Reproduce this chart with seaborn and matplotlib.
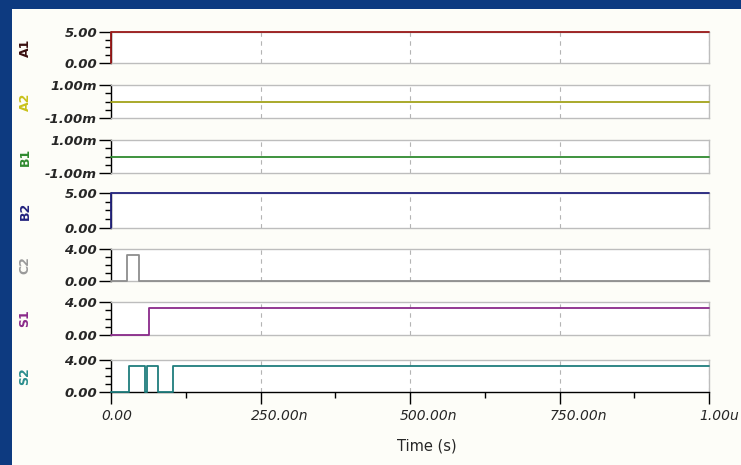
import matplotlib
matplotlib.use("Agg")
import matplotlib.pyplot as plt
import matplotlib.transforms as mtransforms
from matplotlib.ticker import AutoMinorLocator, MultipleLocator
import seaborn as sns

# ================= DATA =================
names = ["A1", "A2", "B1", "B2", "C2", "S1", "S2"]

# step waveforms: time (s) of each edge and level after the edge
t_a1 = [0, 0, 1e-6]
v_a1 = [0, 5.0, 5.0]
t_a2 = [0, 1e-6]
v_a2 = [0, 0]
t_b1 = [0, 1e-6]
v_b1 = [0, 0]
t_b2 = [0, 0, 1e-6]
v_b2 = [0, 5.0, 5.0]
t_c2 = [0, 27e-9, 46e-9, 1e-6]
v_c2 = [0, 3.3, 0, 0]
t_s1 = [0, 63e-9, 1e-6]
v_s1 = [0, 3.3, 3.3]
t_s2 = [0, 30.5e-9, 57e-9, 61e-9, 78e-9, 104e-9, 1e-6]
v_s2 = [0, 3.3, 0, 3.3, 0, 3.3, 3.3]

times = [t_a1, t_a2, t_b1, t_b2, t_c2, t_s1, t_s2]
values = [v_a1, v_a2, v_b1, v_b2, v_c2, v_s1, v_s2]

y_limits = [(0, 5), (-1e-3, 1e-3), (-1e-3, 1e-3), (0, 5), (0, 4), (0, 4), (0, 4)]
y_labels = [("0.00", "5.00"), ("-1.00m", "1.00m"), ("-1.00m", "1.00m"), ("0.00", "5.00"),
            ("0.00", "4.00"), ("0.00", "4.00"), ("0.00", "4.00")]

x_ticks = [0, 250e-9, 500e-9, 750e-9, 1e-6]
x_tick_labels = ["0.00", "250.00n", "500.00n", "750.00n", "1.00u"]

line_colors = ["#9a1818", "#a3a31a", "#2f8a2f", "#23237e", "#8e8e8e", "#8a2a8a", "#1f7d7d"]
label_colors = ["#3a1010", "#c9c21a", "#2f8a2f", "#23237e", "#9a9a9a", "#8a2a8a", "#2a8d8d"]

# ================= LAYOUT (pixel rows of each panel) =================
W, H = 741, 465
panel_rows = [(32, 63), (85, 118), (140, 173), (193, 228), (249, 281), (302, 335), (360, 392)]
x_left, x_right = 111, 709

sns.set_style("ticks")
plt.rcParams["font.family"] = ["DejaVu Sans"]

fig = plt.figure(figsize=(W / 100, H / 100), dpi=100)
fig.patch.set_facecolor("#0d3a80")
fig.add_artist(plt.Rectangle((12 / W, 0), 1, (H - 9) / H, transform=fig.transFigure,
                             facecolor="#fdfdf8", edgecolor="none", zorder=-1))

axes = []
for i, name in enumerate(names):
    top, bot = panel_rows[i]
    ax = fig.add_axes([x_left / W, 1 - bot / H, (x_right - x_left) / W, (bot - top) / H])
    ax.set_facecolor("white")
    sns.lineplot(x=times[i], y=values[i], ax=ax, color=line_colors[i], lw=1.3,
                 estimator=None, sort=False, drawstyle="steps-post", clip_on=False, zorder=5)
    ax.set_xlim(0, 1e-6)
    ax.set_ylim(*y_limits[i])

    lo, hi = y_limits[i]
    ax.set_yticks([lo, hi], list(y_labels[i]), fontstyle="italic", fontweight="bold", fontsize=9.5)
    ax.yaxis.set_minor_locator(AutoMinorLocator(4))
    ax.tick_params(axis="y", which="major", length=8.5, width=1, color="black", pad=1.5)
    ax.tick_params(axis="y", which="minor", length=4, width=1, color="black")

    ax.set_xticks(x_ticks)
    ax.grid(axis="x", ls=(0, (4, 4)), color="#b4b4b4", lw=0.8)
    ax.grid(axis="y", visible=False)

    for s in ["top", "right", "bottom"]:
        ax.spines[s].set_color("#bdbdbd")
        ax.spines[s].set_linewidth(1)
    ax.spines["left"].set_color("black")
    ax.spines["left"].set_linewidth(1)

    ax.set_xlabel("")
    ax.set_ylabel(name, color=label_colors[i], fontsize=9, fontweight="bold")
    ax.yaxis.set_label_coords((25 - x_left) / (x_right - x_left), 0.5)
    ax.yaxis.label.set_va("center")

    if i < len(names) - 1:
        ax.tick_params(axis="x", which="both", bottom=False, labelbottom=False)
    axes.append(ax)

# ================= BOTTOM TIME AXIS =================
ax = axes[-1]
ax.spines["bottom"].set_color("black")
ax.set_xticks(x_ticks, x_tick_labels, fontstyle="italic", fontsize=10, ha="left")
ax.xaxis.set_minor_locator(MultipleLocator(125e-9))
ax.tick_params(axis="x", which="major", length=8.5, width=1, color="black", pad=4)
ax.tick_params(axis="x", which="minor", length=4, width=1, color="black")
shift = mtransforms.ScaledTranslation(-0.10, 0, fig.dpi_scale_trans)
for lab in ax.get_xticklabels():
    lab.set_transform(lab.get_transform() + shift)
ax.set_xlabel("Time (s)", fontsize=10.5, va="center", ha="center")
ax.xaxis.set_label_coords((427 - x_left) / (x_right - x_left), -(446 - 392) / (392 - 360))

fig.savefig("out.png", dpi=100)
